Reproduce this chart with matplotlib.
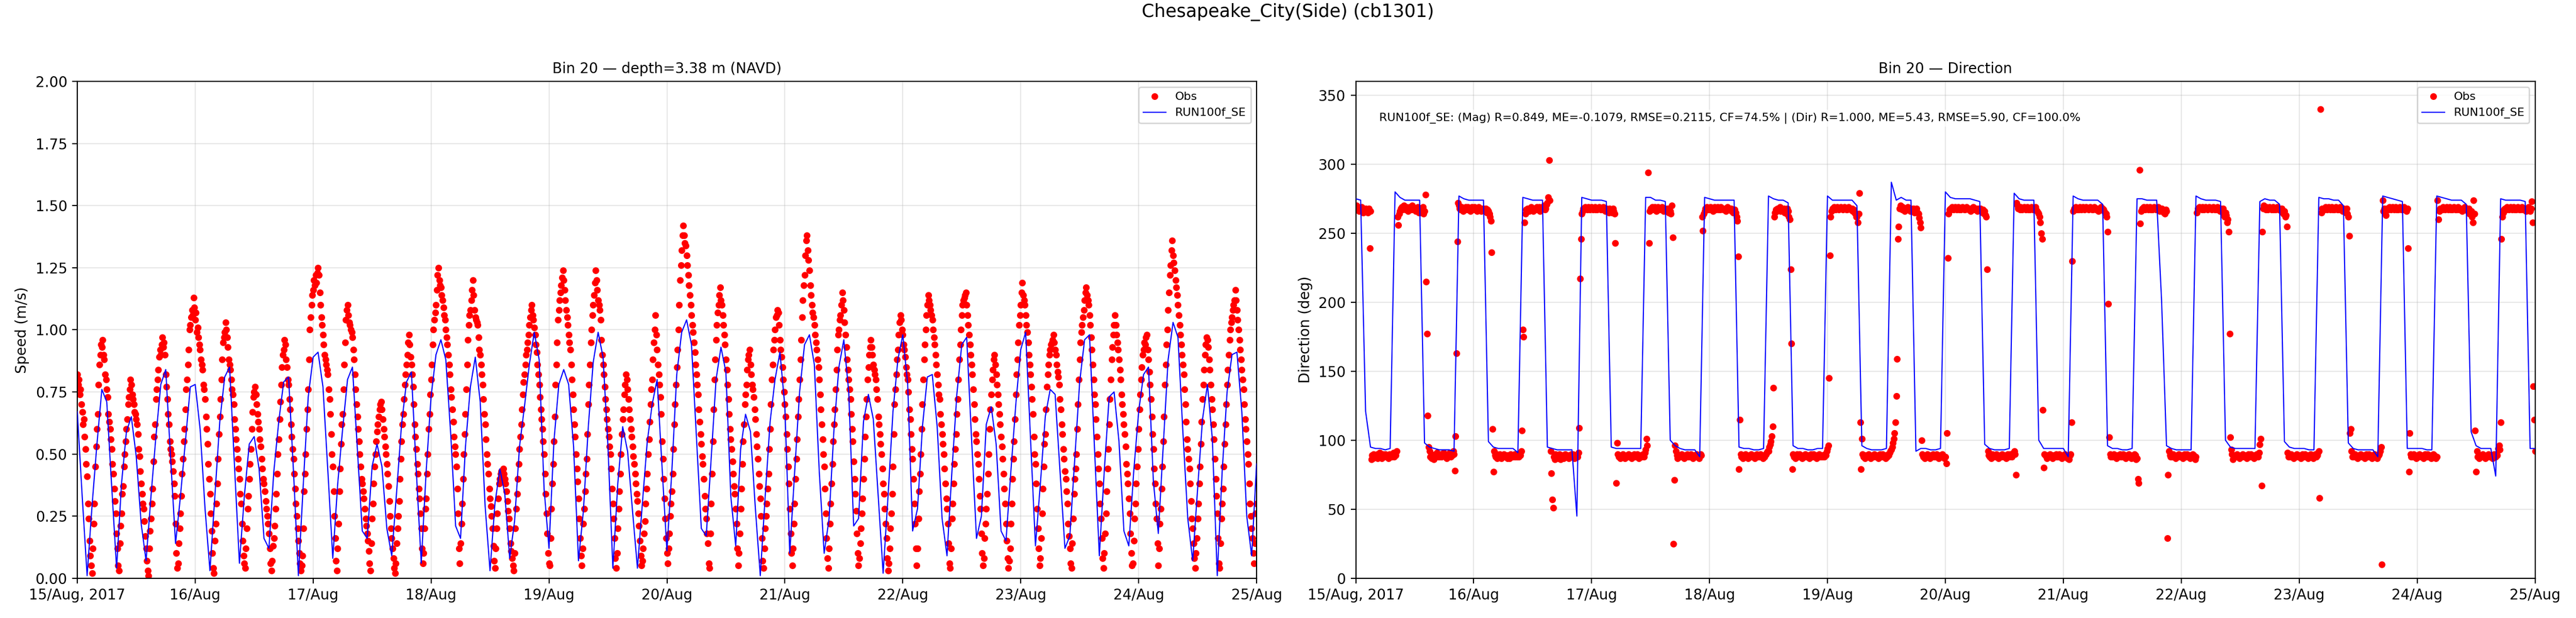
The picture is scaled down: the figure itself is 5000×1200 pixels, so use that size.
import numpy as np
import pandas as pd
import matplotlib
matplotlib.use("Agg")
import matplotlib.pyplot as plt
import matplotlib.dates as mdates
from matplotlib.ticker import FuncFormatter

# ---------------- data ----------------
suptitle = "Chesapeake_City(Side) (cb1301)"
title_speed = "Bin 20 \u2014 depth=3.38 m (NAVD)"
title_dir = "Bin 20 \u2014 Direction"
obs_label = "Obs"
model_label = "RUN100f_SE"
stats_text = ("RUN100f_SE: (Mag) R=0.849, ME=-0.1079, RMSE=0.2115, CF=74.5% | "
              "(Dir) R=1.000, ME=5.43, RMSE=5.90, CF=100.0%")
start_time = "2017-08-15 00:00"
end_time = "2017-08-25 00:00"
obs_step_min = 10
model_step_min = 60

# model (hourly) speed, m/s
model_speed = [
    0.67,0.33,0.01,0.29,0.54,0.76,0.71,0.37,0.04,0.38,0.59,0.65,
    0.49,0.22,0.07,0.33,0.57,0.78,0.84,0.48,0.14,0.33,0.55,0.77,
    0.78,0.60,0.28,0.03,0.33,0.63,0.81,0.85,0.45,0.06,0.33,0.54,
    0.57,0.44,0.16,0.12,0.43,0.63,0.79,0.81,0.43,0.01,0.38,0.73,
    0.89,0.91,0.77,0.43,0.08,0.38,0.60,0.80,0.85,0.52,0.19,0.16,
    0.45,0.54,0.45,0.20,0.09,0.35,0.62,0.79,0.83,0.43,0.06,0.43,
    0.73,0.90,0.96,0.88,0.58,0.21,0.16,0.53,0.77,0.89,0.71,0.29,
    0.03,0.30,0.44,0.34,0.08,0.23,0.53,0.69,0.86,0.99,0.88,0.36,
    0.12,0.55,0.78,0.84,0.78,0.53,0.07,0.27,0.61,0.87,0.99,0.89,
    0.53,0.04,0.38,0.61,0.51,0.27,0.04,0.30,0.55,0.70,0.80,0.45,
    0.11,0.43,0.82,0.99,1.04,0.94,0.57,0.20,0.17,0.48,0.80,0.93,
    0.83,0.33,0.13,0.52,0.66,0.59,0.28,0.01,0.33,0.63,0.80,0.91,
    0.69,0.10,0.43,0.75,0.94,0.98,0.86,0.43,0.10,0.24,0.60,0.85,
    0.96,0.75,0.21,0.24,0.63,0.74,0.64,0.33,0.02,0.33,0.67,0.88,
    0.98,0.78,0.19,0.28,0.61,0.81,0.82,0.61,0.24,0.09,0.43,0.74,
    0.94,0.97,0.56,0.16,0.25,0.62,0.69,0.54,0.19,0.15,0.43,0.70,
    0.92,0.99,0.56,0.13,0.38,0.65,0.76,0.74,0.43,0.12,0.17,0.48,
    0.79,0.96,0.98,0.53,0.09,0.43,0.73,0.75,0.55,0.19,0.13,0.43,
    0.67,0.82,0.85,0.39,0.18,0.53,0.88,1.03,0.97,0.59,0.24,0.07,
    0.36,0.64,0.78,0.56,0.01,0.43,0.75,0.90,0.91,0.67,0.25,0.09,
    0.46,
]

# model (hourly) direction, deg
model_dir = [
    275,274,121,95,94,94,93,94,280,276,274,274,
    274,274,98,95,94,93,93,93,92,277,275,274,
    274,274,274,99,95,94,94,94,94,91,276,275,
    274,274,274,95,94,93,93,93,93,45,276,275,
    274,274,274,273,95,94,94,94,94,94,94,276,
    276,274,274,273,100,96,94,93,93,93,88,276,
    275,274,274,274,274,274,95,94,94,93,93,94,
    277,275,274,274,272,96,94,94,93,93,94,94,
    277,274,274,274,274,274,270,96,94,93,93,93,
    94,287,274,276,274,274,92,94,94,93,93,94,
    280,276,275,275,275,275,274,273,97,94,93,93,
    93,94,279,275,274,274,274,100,94,94,94,94,
    94,88,277,275,274,274,274,274,271,96,94,94,
    93,93,94,275,275,274,274,274,201,96,94,93,
    93,93,93,277,275,274,274,274,273,100,95,94,
    94,94,94,94,273,275,274,274,271,99,95,94,
    94,94,93,93,276,275,275,274,274,270,98,94,
    93,93,93,93,88,277,276,275,274,273,94,94,
    94,94,93,93,277,276,275,274,274,274,271,106,
    96,94,94,94,74,275,274,274,274,274,273,94,
    94,
]

# observed speed, 10-min samples (one line per hour)
obs_speed = [
    0.82,0.78,0.80,0.74,0.76,0.70,
    0.67,0.62,0.64,0.57,0.52,0.46,
    0.41,0.30,0.24,0.15,0.09,0.05,
    0.02,0.12,0.22,0.30,0.45,0.53,
    0.60,0.66,0.78,0.86,0.90,0.94,
    0.93,0.96,0.90,0.88,0.82,0.80,
    0.76,0.73,0.66,0.63,0.60,0.56,
    0.52,0.46,0.42,0.36,0.31,0.26,
    0.18,0.12,0.05,0.03,0.14,0.21,
    0.26,0.34,0.37,0.45,0.50,0.55,
    0.60,0.64,0.70,0.73,0.76,0.80,
    0.78,0.74,0.72,0.70,0.67,0.66,
    0.64,0.62,0.58,0.52,0.49,0.43,
    0.38,0.34,0.30,0.28,0.23,0.17,
    0.12,0.07,0.03,0.01,0.12,0.19,
    0.24,0.30,0.36,0.47,0.57,0.62,
    0.72,0.76,0.80,0.84,0.89,0.92,
    0.90,0.94,0.97,0.93,0.95,0.90,
    0.82,0.77,0.72,0.66,0.62,0.55,
    0.52,0.50,0.47,0.43,0.38,0.33,
    0.22,0.10,0.04,0.06,0.14,0.20,
    0.26,0.33,0.42,0.48,0.55,0.60,
    0.68,0.76,0.80,0.86,0.92,1.00,
    1.02,1.05,1.08,1.06,1.13,1.09,
    1.04,1.07,0.99,1.01,0.97,0.94,
    0.92,0.88,0.86,0.84,0.78,0.76,
    0.72,0.65,0.60,0.54,0.46,0.40,
    0.34,0.26,0.19,0.10,0.04,0.02,
    0.15,0.22,0.30,0.38,0.48,0.58,
    0.65,0.72,0.80,0.88,0.95,0.97,
    0.99,1.03,1.00,0.97,0.93,0.88,
    0.86,0.84,0.80,0.76,0.74,0.70,
    0.64,0.60,0.56,0.52,0.48,0.44,
    0.40,0.34,0.30,0.22,0.15,0.09,
    0.06,0.04,0.12,0.20,0.28,0.33,
    0.40,0.46,0.52,0.60,0.67,0.73,
    0.75,0.77,0.74,0.70,0.66,0.63,
    0.60,0.56,0.53,0.48,0.44,0.40,
    0.38,0.35,0.31,0.28,0.25,0.22,
    0.18,0.12,0.06,0.03,0.07,0.13,
    0.16,0.21,0.28,0.34,0.42,0.50,
    0.56,0.64,0.71,0.78,0.85,0.90,
    0.92,0.96,0.94,0.88,0.85,0.80,
    0.78,0.72,0.68,0.62,0.57,0.52,
    0.48,0.42,0.36,0.30,0.25,0.20,
    0.15,0.10,0.06,0.03,0.05,0.09,
    0.20,0.35,0.42,0.50,0.60,0.68,
    0.76,0.88,1.00,1.05,1.10,1.14,
    1.16,1.20,1.18,1.22,1.19,1.23,
    1.25,1.22,1.15,1.10,1.05,1.02,
    0.98,0.94,0.90,0.88,0.86,0.84,
    0.82,0.76,0.72,0.66,0.58,0.50,
    0.45,0.35,0.25,0.16,0.07,0.03,
    0.12,0.22,0.35,0.44,0.54,0.62,
    0.66,0.76,0.86,0.95,1.04,1.08,
    1.10,1.06,1.03,1.02,1.00,0.99,
    0.97,0.92,0.88,0.82,0.76,0.70,
    0.65,0.60,0.55,0.50,0.45,0.40,
    0.38,0.35,0.32,0.28,0.24,0.21,
    0.18,0.15,0.11,0.06,0.03,0.14,
    0.24,0.30,0.38,0.45,0.50,0.55,
    0.59,0.62,0.65,0.68,0.70,0.71,
    0.68,0.64,0.60,0.57,0.53,0.50,
    0.46,0.42,0.37,0.31,0.25,0.20,
    0.16,0.12,0.08,0.04,0.02,0.06,
    0.14,0.20,0.25,0.31,0.40,0.48,
    0.55,0.62,0.66,0.72,0.78,0.82,
    0.86,0.90,0.95,0.98,0.94,0.89,
    0.86,0.82,0.77,0.70,0.62,0.57,
    0.52,0.46,0.42,0.36,0.32,0.26,
    0.20,0.12,0.06,0.10,0.20,0.28,
    0.32,0.42,0.50,0.60,0.66,0.74,
    0.80,0.86,0.94,1.00,1.04,1.07,
    1.10,1.16,1.22,1.25,1.20,1.18,
    1.17,1.14,1.12,1.09,1.06,1.04,
    1.00,0.97,0.94,0.90,0.86,0.82,
    0.76,0.73,0.68,0.63,0.57,0.53,
    0.50,0.45,0.36,0.26,0.12,0.06,
    0.14,0.22,0.30,0.40,0.50,0.58,
    0.66,0.76,0.86,0.96,1.02,1.06,
    1.08,1.12,1.16,1.20,1.14,1.08,
    1.05,1.04,1.03,1.02,0.97,0.92,
    0.90,0.86,0.82,0.78,0.72,0.66,
    0.62,0.56,0.50,0.46,0.42,0.36,
    0.32,0.29,0.25,0.20,0.13,0.07,
    0.04,0.12,0.20,0.26,0.32,0.38,
    0.40,0.42,0.43,0.42,0.44,0.42,
    0.40,0.38,0.35,0.31,0.27,0.24,
    0.20,0.14,0.11,0.08,0.05,0.03,
    0.10,0.20,0.28,0.34,0.40,0.46,
    0.52,0.57,0.62,0.68,0.74,0.79,
    0.82,0.86,0.90,0.92,0.95,0.98,
    1.02,1.05,1.08,1.10,1.06,1.04,
    1.01,0.98,0.94,0.91,0.86,0.82,
    0.78,0.73,0.68,0.64,0.60,0.55,
    0.50,0.42,0.34,0.26,0.18,0.10,
    0.06,0.05,0.16,0.28,0.38,0.46,
    0.55,0.65,0.78,0.86,0.95,1.04,
    1.08,1.12,1.15,1.18,1.21,1.24,
    1.20,1.16,1.12,1.08,1.05,1.02,
    0.98,0.95,0.92,0.86,0.80,0.74,
    0.68,0.62,0.57,0.50,0.44,0.39,
    0.32,0.24,0.16,0.09,0.05,0.12,
    0.22,0.28,0.35,0.42,0.48,0.58,
    0.70,0.78,0.86,0.95,1.00,1.06,
    1.10,1.14,1.19,1.24,1.20,1.16,
    1.12,1.10,1.08,1.04,0.96,0.90,
    0.86,0.82,0.77,0.72,0.68,0.64,
    0.60,0.57,0.53,0.50,0.44,0.36,
    0.30,0.24,0.16,0.08,0.04,0.10,
    0.20,0.28,0.35,0.42,0.50,0.58,
    0.64,0.68,0.74,0.78,0.82,0.80,
    0.76,0.72,0.68,0.64,0.60,0.57,
    0.53,0.49,0.46,0.42,0.38,0.34,
    0.31,0.26,0.21,0.15,0.09,0.05,
    0.07,0.12,0.18,0.23,0.30,0.36,
    0.42,0.50,0.56,0.63,0.70,0.76,
    0.80,0.88,0.95,1.00,1.06,0.98,
    0.92,0.86,0.82,0.78,0.73,0.66,
    0.55,0.48,0.40,0.32,0.24,0.16,
    0.10,0.06,0.12,0.18,0.25,0.30,
    0.35,0.42,0.52,0.62,0.70,0.78,
    0.85,0.92,1.00,1.10,1.20,1.26,
    1.32,1.38,1.42,1.38,1.35,1.34,
    1.30,1.26,1.22,1.18,1.14,1.10,
    1.06,1.02,0.99,0.95,0.91,0.86,
    0.82,0.78,0.74,0.68,0.63,0.58,
    0.54,0.49,0.46,0.40,0.33,0.28,
    0.24,0.18,0.14,0.06,0.04,0.18,
    0.30,0.42,0.55,0.68,0.80,0.88,
    0.96,1.02,1.07,1.10,1.14,1.17,
    1.12,1.10,1.06,1.02,0.98,0.94,
    0.88,0.84,0.78,0.72,0.66,0.60,
    0.56,0.52,0.47,0.42,0.37,0.34,
    0.28,0.22,0.12,0.05,0.10,0.18,
    0.28,0.36,0.46,0.55,0.62,0.70,
    0.74,0.78,0.84,0.88,0.90,0.92,
    0.86,0.82,0.78,0.76,0.73,0.68,
    0.64,0.58,0.53,0.48,0.42,0.37,
    0.32,0.25,0.16,0.07,0.04,0.12,
    0.20,0.25,0.30,0.36,0.42,0.52,
    0.60,0.70,0.80,0.86,0.92,0.96,
    1.00,1.05,1.06,1.08,1.07,1.02,
    0.96,0.92,0.89,0.85,0.80,0.75,
    0.70,0.65,0.58,0.52,0.45,0.38,
    0.28,0.18,0.10,0.05,0.12,0.22,
    0.30,0.40,0.48,0.56,0.65,0.72,
    0.80,0.88,0.96,1.05,1.12,1.18,
    1.22,1.30,1.36,1.38,1.32,1.28,
    1.24,1.18,1.14,1.10,1.07,1.05,
    1.02,0.98,0.95,0.92,0.88,0.85,
    0.80,0.74,0.68,0.62,0.56,0.50,
    0.45,0.36,0.26,0.16,0.08,0.04,
    0.12,0.22,0.30,0.38,0.46,0.55,
    0.62,0.68,0.76,0.84,0.92,0.98,
    1.00,1.04,1.06,1.10,1.15,1.12,
    1.08,1.03,0.98,0.93,0.88,0.84,
    0.80,0.76,0.72,0.66,0.60,0.55,
    0.47,0.40,0.34,0.27,0.18,0.10,
    0.05,0.08,0.14,0.20,0.26,0.32,
    0.40,0.48,0.57,0.65,0.72,0.80,
    0.85,0.90,0.93,0.96,0.93,0.90,
    0.86,0.84,0.82,0.80,0.76,0.72,
    0.65,0.62,0.58,0.54,0.50,0.44,
    0.38,0.34,0.28,0.22,0.16,0.08,
    0.03,0.06,0.12,0.20,0.26,0.34,
    0.45,0.58,0.70,0.76,0.82,0.88,
    0.92,0.98,1.03,1.06,1.04,1.00,
    0.98,0.94,0.92,0.89,0.85,0.82,
    0.80,0.75,0.68,0.64,0.58,0.52,
    0.48,0.40,0.30,0.22,0.12,0.05,
    0.12,0.24,0.35,0.42,0.50,0.60,
    0.70,0.80,0.88,0.94,1.00,1.06,
    1.10,1.14,1.12,1.10,1.08,1.06,
    1.04,1.00,0.97,0.94,0.90,0.86,
    0.82,0.78,0.74,0.72,0.66,0.62,
    0.58,0.54,0.50,0.44,0.38,0.32,
    0.28,0.22,0.14,0.06,0.04,0.12,
    0.24,0.30,0.38,0.46,0.52,0.58,
    0.66,0.72,0.80,0.88,0.94,1.00,
    1.06,1.10,1.12,1.13,1.14,1.15,
    1.10,1.06,1.02,0.98,0.94,0.90,
    0.86,0.82,0.76,0.70,0.64,0.58,
    0.55,0.50,0.46,0.40,0.33,0.28,
    0.18,0.10,0.05,0.08,0.16,0.22,
    0.28,0.34,0.42,0.50,0.60,0.68,
    0.74,0.80,0.84,0.88,0.90,0.86,
    0.82,0.78,0.74,0.70,0.66,0.62,
    0.57,0.53,0.48,0.42,0.36,0.30,
    0.22,0.15,0.08,0.04,0.07,0.12,
    0.22,0.30,0.40,0.48,0.55,0.64,
    0.74,0.82,0.88,0.95,1.02,1.06,
    1.10,1.15,1.19,1.14,1.12,1.10,
    1.06,1.02,0.99,0.95,0.90,0.86,
    0.82,0.77,0.72,0.66,0.57,0.50,
    0.46,0.38,0.28,0.20,0.12,0.05,
    0.08,0.16,0.26,0.36,0.45,0.54,
    0.58,0.68,0.77,0.82,0.86,0.90,
    0.92,0.94,0.95,0.96,0.98,0.95,
    0.92,0.90,0.86,0.83,0.81,0.78,
    0.72,0.68,0.62,0.58,0.52,0.48,
    0.43,0.40,0.35,0.30,0.22,0.17,
    0.12,0.06,0.04,0.14,0.24,0.34,
    0.40,0.44,0.50,0.60,0.70,0.80,
    0.88,0.95,0.99,1.02,1.05,1.08,
    1.12,1.15,1.17,1.14,1.12,1.10,
    1.06,1.02,0.97,0.92,0.86,0.80,
    0.74,0.70,0.64,0.57,0.50,0.44,
    0.38,0.30,0.24,0.16,0.08,0.04,
    0.10,0.18,0.26,0.35,0.44,0.52,
    0.62,0.72,0.80,0.88,0.93,0.98,
    1.02,1.06,1.02,0.98,0.95,0.92,
    0.88,0.84,0.80,0.74,0.70,0.66,
    0.62,0.58,0.53,0.46,0.42,0.38,
    0.32,0.26,0.18,0.10,0.05,0.06,
    0.15,0.24,0.30,0.38,0.45,0.52,
    0.60,0.68,0.74,0.80,0.85,0.90,
    0.92,0.95,0.94,0.97,0.98,0.92,
    0.88,0.83,0.78,0.72,0.65,0.58,
    0.52,0.44,0.38,0.30,0.24,0.14,
    0.05,0.12,0.22,0.28,0.36,0.45,
    0.55,0.65,0.78,0.86,0.94,1.00,
    1.08,1.15,1.22,1.26,1.32,1.36,
    1.30,1.27,1.24,1.20,1.17,1.14,
    1.10,1.06,1.02,0.98,0.94,0.90,
    0.86,0.82,0.76,0.70,0.63,0.56,
    0.52,0.48,0.44,0.38,0.31,0.24,
    0.20,0.14,0.08,0.04,0.10,0.16,
    0.24,0.30,0.38,0.45,0.54,0.63,
    0.72,0.78,0.84,0.90,0.94,0.97,
    0.96,0.93,0.88,0.84,0.78,0.72,
    0.68,0.62,0.56,0.48,0.40,0.33,
    0.26,0.16,0.06,0.04,0.14,0.24,
    0.30,0.36,0.45,0.54,0.62,0.70,
    0.78,0.84,0.90,0.96,1.00,1.03,
    1.05,1.08,1.10,1.12,1.16,1.12,
    1.08,1.04,1.00,0.96,0.92,0.88,
    0.84,0.80,0.76,0.70,0.64,0.60,
    0.55,0.50,0.46,0.38,0.30,0.25,
    0.20,0.16,0.10,0.06,0.14,0.26,
    0.30,
]

# observed direction, 10-min samples (one line per hour)
obs_dir = [
    268,270,267,269,266,268,
    267,269,268,265,267,266,
    268,266,267,265,268,239,
    266,86,89,87,90,88,
    89,88,90,87,89,91,
    88,89,87,90,88,89,
    90,88,89,88,87,90,
    89,90,88,89,91,88,
    90,89,92,262,256,264,
    266,268,269,267,268,270,
    268,267,269,268,266,268,
    269,268,267,270,268,267,
    268,266,268,267,269,265,
    267,268,265,266,269,264,
    266,278,215,177,118,95,
    92,88,90,87,89,86,
    89,90,88,91,89,88,
    88,89,90,88,89,91,
    90,88,89,87,88,90,
    89,91,88,90,89,92,
    90,78,103,163,244,272,
    270,268,267,269,268,266,
    268,267,269,268,267,269,
    267,268,266,268,269,267,
    268,269,267,268,266,268,
    269,268,267,266,268,267,
    268,267,266,268,265,267,
    266,264,262,259,236,108,
    77,92,89,88,90,87,
    89,88,90,89,87,88,
    88,90,89,88,89,87,
    89,88,87,90,88,89,
    88,89,90,88,89,88,
    89,88,90,89,92,107,
    180,175,258,264,267,266,
    268,267,266,268,269,267,
    268,266,267,268,267,269,
    267,268,269,266,268,267,
    268,269,270,267,268,271,
    272,276,303,274,92,76,
    57,51,88,86,90,87,
    89,87,88,90,86,89,
    88,89,87,88,90,88,
    89,88,87,89,88,90,
    88,90,89,87,88,89,
    89,88,91,109,217,246,
    264,266,268,267,269,268,
    268,267,269,268,267,268,
    269,268,267,268,269,267,
    268,267,268,269,268,267,
    267,268,269,267,268,266,
    268,266,267,265,268,266,
    267,265,268,266,264,243,
    69,98,90,88,89,87,
    89,88,90,89,88,87,
    88,89,88,90,89,88,
    89,87,88,89,90,88,
    88,89,90,88,87,89,
    89,88,89,90,88,91,
    93,101,96,294,243,266,
    268,267,269,268,267,269,
    268,266,267,269,268,267,
    267,268,269,268,266,267,
    268,267,266,268,265,267,
    266,264,270,247,25,71,
    96,92,89,87,88,89,
    88,89,90,88,89,87,
    89,88,89,90,88,89,
    88,90,89,88,87,89,
    89,88,90,89,88,87,
    88,90,89,262,252,264,
    266,268,267,269,268,267,
    268,269,267,268,266,268,
    269,268,267,268,269,267,
    268,267,269,268,268,267,
    267,268,266,268,269,268,
    268,267,268,266,267,265,
    266,267,265,262,259,233,
    79,115,90,88,89,87,
    89,88,90,89,88,87,
    88,89,88,90,89,88,
    89,87,88,89,90,88,
    88,89,90,88,89,87,
    89,88,89,90,91,92,
    92,95,97,99,103,110,
    138,262,265,267,266,268,
    268,267,269,266,268,267,
    266,268,265,267,264,268,
    266,262,260,224,170,79,
    90,88,89,87,88,90,
    89,88,90,89,88,87,
    88,89,88,90,89,88,
    89,88,87,89,90,88,
    88,90,89,88,89,87,
    89,88,90,89,88,89,
    88,89,88,90,89,92,
    94,96,145,234,262,266,
    268,267,269,268,267,268,
    269,268,267,268,269,268,
    268,267,268,269,268,267,
    267,268,269,268,267,268,
    268,266,267,265,264,262,
    262,258,264,279,113,79,
    101,90,88,89,87,88,
    89,88,90,89,88,87,
    88,89,88,90,89,88,
    89,88,87,89,90,88,
    88,90,89,88,89,87,
    89,88,90,89,91,92,
    93,95,98,101,105,113,
    132,159,246,255,268,270,
    268,267,269,268,266,268,
    267,268,269,267,268,266,
    268,267,266,268,265,267,
    266,268,265,264,261,258,
    254,100,90,88,89,87,
    88,89,90,88,89,87,
    89,88,89,90,88,89,
    88,90,89,88,87,89,
    89,88,90,89,88,87,
    88,83,105,232,264,267,
    268,267,269,268,267,268,
    269,268,267,268,269,267,
    268,267,268,269,268,267,
    267,268,269,268,267,268,
    268,266,267,268,269,267,
    268,267,268,266,267,268,
    267,268,266,265,267,264,
    266,263,262,224,92,89,
    88,89,87,90,88,89,
    89,88,90,89,88,87,
    88,89,88,90,89,88,
    89,88,87,89,90,88,
    88,90,89,88,89,91,
    92,90,75,272,270,268,
    268,267,269,268,267,268,
    269,268,267,268,269,267,
    268,267,268,269,268,267,
    267,268,269,267,266,265,
    264,262,258,250,246,122,
    80,90,89,88,87,89,
    88,89,90,88,89,87,
    89,88,89,90,88,89,
    88,90,89,88,87,89,
    89,88,90,89,88,87,
    88,86,89,90,113,230,
    266,268,267,269,268,267,
    268,267,269,268,267,268,
    269,268,267,268,269,268,
    268,267,268,269,268,267,
    267,268,269,268,267,268,
    268,266,267,268,269,267,
    268,267,266,265,264,262,
    251,199,102,90,88,89,
    88,89,90,88,89,87,
    89,88,89,90,88,89,
    88,90,89,88,87,89,
    89,88,90,89,88,87,
    88,89,88,90,89,86,
    87,72,69,296,257,266,
    268,267,269,268,267,268,
    269,268,267,268,269,267,
    268,267,268,269,268,267,
    267,268,269,267,266,268,
    268,267,266,265,264,267,
    266,29,75,92,89,88,
    89,88,90,89,88,87,
    88,89,88,90,89,88,
    89,88,87,89,90,88,
    88,90,89,88,89,87,
    89,88,90,89,88,86,
    88,265,268,267,269,268,
    268,267,269,268,267,268,
    269,268,267,268,269,268,
    268,267,268,269,268,267,
    267,268,269,267,268,266,
    268,266,267,268,264,262,
    265,263,258,260,251,177,
    102,93,90,86,88,89,
    89,88,90,89,88,87,
    88,89,88,90,89,88,
    89,88,87,89,90,88,
    88,90,89,88,89,87,
    89,88,90,89,88,91,
    97,101,67,251,268,270,
    268,267,269,268,267,268,
    269,268,267,268,269,267,
    268,267,268,269,268,267,
    267,268,266,268,265,264,
    266,262,263,255,91,88,
    89,88,90,89,88,87,
    88,89,88,90,89,88,
    89,88,87,89,90,88,
    88,90,89,88,89,87,
    89,88,90,89,88,87,
    88,89,90,88,89,91,
    92,58,340,265,268,267,
    268,267,269,268,267,268,
    269,268,267,268,269,267,
    268,267,268,269,268,267,
    267,268,269,267,268,266,
    268,266,267,265,268,264,
    262,248,105,108,92,88,
    89,88,90,89,88,87,
    88,89,88,90,89,88,
    89,88,87,89,90,88,
    88,90,89,88,89,87,
    89,88,90,89,88,87,
    88,89,90,92,95,10,
    274,266,268,267,263,268,
    268,267,269,268,267,268,
    269,268,267,268,269,267,
    268,267,268,269,268,267,
    267,268,269,267,268,266,
    268,239,77,105,90,88,
    89,88,90,89,88,87,
    88,89,88,90,89,88,
    89,88,87,89,90,88,
    88,90,89,88,89,87,
    89,88,90,89,88,87,
    88,274,260,266,268,267,
    268,267,269,268,267,268,
    269,268,267,268,269,267,
    268,267,268,269,268,267,
    267,268,269,267,268,268,
    268,266,267,268,269,267,
    268,267,266,268,264,265,
    266,262,258,274,264,107,
    77,92,88,89,87,88,
    89,88,90,89,88,87,
    88,89,88,90,89,88,
    89,88,87,89,90,88,
    88,90,89,94,96,93,
    113,246,262,265,267,268,
    268,267,269,268,267,268,
    269,268,267,268,269,267,
    268,267,268,269,268,267,
    267,268,269,267,268,268,
    268,266,267,268,269,267,
    266,268,273,258,139,115,
    92,
]

speed_ylim = (0.0, 2.0)
speed_yticks = [0.00, 0.25, 0.50, 0.75, 1.00, 1.25, 1.50, 1.75, 2.00]
dir_ylim = (0, 360)
dir_yticks = [0, 50, 100, 150, 200, 250, 300, 350]

# ---------------- time axes ----------------
t0 = pd.Timestamp(start_time)
t_obs_speed = t0 + pd.to_timedelta(np.arange(len(obs_speed)) * obs_step_min, unit="min")
t_obs_dir = t0 + pd.to_timedelta(np.arange(len(obs_dir)) * obs_step_min, unit="min")
t_mod_speed = t0 + pd.to_timedelta(np.arange(len(model_speed)) * model_step_min, unit="min")
t_mod_dir = t0 + pd.to_timedelta(np.arange(len(model_dir)) * model_step_min, unit="min")

# ---------------- figure ----------------
plt.rcParams['font.family'] = ['DejaVu Sans']
fig = plt.figure(figsize=(25, 6), dpi=200)
ax1 = fig.add_axes([0.0300, 0.0645, 0.4578, 0.8036])
ax2 = fig.add_axes([0.5263, 0.0645, 0.4578, 0.8036])

def fmt_date(x, pos=None):
    d = mdates.num2date(x)
    if d.day == 15 and d.month == 8:
        return d.strftime("%d/%b, %Y")
    return d.strftime("%d/%b")

for ax in (ax1, ax2):
    ax.set_xlim(pd.Timestamp(start_time), pd.Timestamp(end_time))
    ax.xaxis.set_major_locator(mdates.DayLocator())
    ax.xaxis.set_major_formatter(FuncFormatter(fmt_date))
    ax.grid(True, color="#b0b0b0", alpha=0.3, linewidth=0.8)
    ax.set_axisbelow(True)

ax1.plot(t_obs_speed, obs_speed, linestyle="none", marker="o", markersize=3.7,
         color="red", label=obs_label, zorder=2)
ax1.plot(t_mod_speed, model_speed, color="blue", linewidth=0.8,
         label=model_label, zorder=3)
ax1.set_ylim(*speed_ylim)
ax1.set_yticks(speed_yticks)
ax1.set_ylabel("Speed (m/s)")
ax1.set_title(title_speed, fontsize=10)
ax1.legend(loc="upper right", fontsize=8)

ax2.plot(t_obs_dir, obs_dir, linestyle="none", marker="o", markersize=3.7,
         color="red", label=obs_label, zorder=2)
ax2.plot(t_mod_dir, model_dir, color="blue", linewidth=0.8,
         label=model_label, zorder=3)
ax2.set_ylim(*dir_ylim)
ax2.set_yticks(dir_yticks)
ax2.set_ylabel("Direction (deg)")
ax2.set_title(title_dir, fontsize=10)
ax2.legend(loc="upper right", fontsize=8)
ax2.text(0.02, 0.926, stats_text, transform=ax2.transAxes, fontsize=8,
         va="center", ha="left",
         bbox=dict(facecolor="white", edgecolor="none", alpha=0.7, pad=2))

fig.suptitle(suptitle, fontsize=12.5, y=0.995)

fig.savefig("out.png", dpi=200)
